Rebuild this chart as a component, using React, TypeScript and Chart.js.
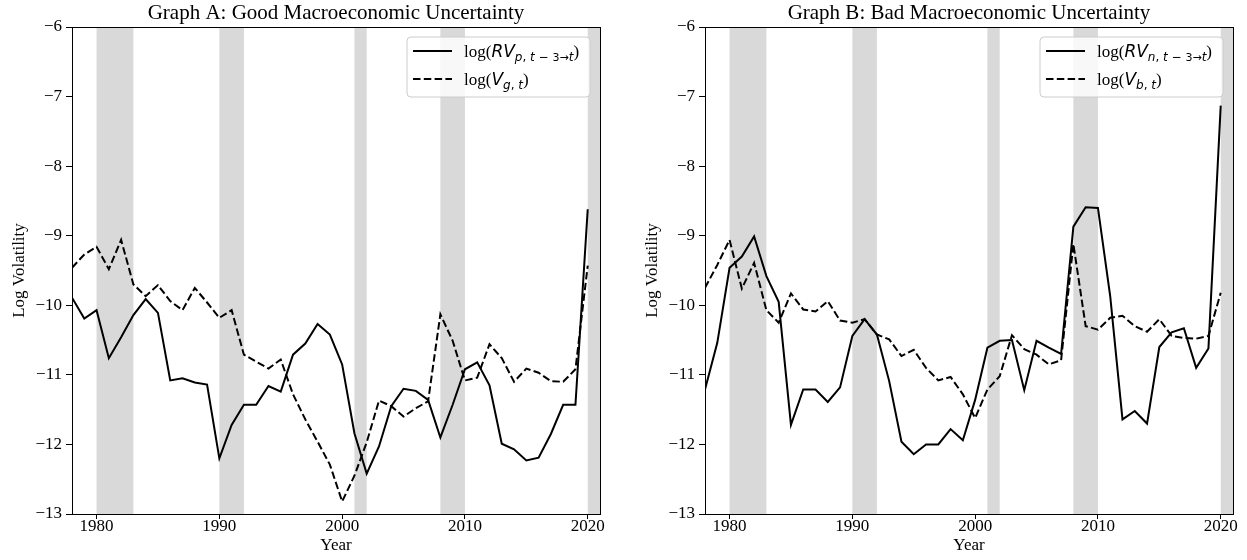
import React, { useEffect, useRef } from "react";
import { Chart, registerables } from "chart.js";

Chart.register(...registerables);

// ---------- DATA ----------
const years = [
  1978, 1979, 1980, 1981, 1982, 1983, 1984, 1985, 1986, 1987,
  1988, 1989, 1990, 1991, 1992, 1993, 1994, 1995, 1996, 1997,
  1998, 1999, 2000, 2001, 2002, 2003, 2004, 2005, 2006, 2007,
  2008, 2009, 2010, 2011, 2012, 2013, 2014, 2015, 2016, 2017,
  2018, 2019, 2020,
];

// Graph A: log(RV_p) and log(V_g)
const rvGood = [
  -9.89, -10.19, -10.07, -10.76, -10.46, -10.14, -9.91, -10.11, -11.08, -11.05,
  -11.11, -11.14, -12.2, -11.72, -11.43, -11.43, -11.16, -11.24, -10.71, -10.55,
  -10.27, -10.42, -10.85, -11.84, -12.42, -12.03, -11.45, -11.2, -11.23, -11.36,
  -11.9, -11.43, -10.92, -10.82, -11.15, -11.99, -12.07, -12.23, -12.19, -11.85,
  -11.43, -11.43, -8.62,
];
const vGood = [
  -9.46, -9.27, -9.16, -9.48, -9.06, -9.7, -9.87, -9.71, -9.94, -10.07,
  -9.75, -9.96, -10.18, -10.07, -10.71, -10.81, -10.91, -10.78, -11.28, -11.64,
  -11.96, -12.29, -12.82, -12.45, -11.97, -11.37, -11.45, -11.6, -11.48, -11.38,
  -10.13, -10.51, -11.08, -11.04, -10.56, -10.76, -11.1, -10.91, -10.97, -11.09,
  -11.1, -10.92, -9.43,
];

// Graph B: log(RV_n) and log(V_b)
const rvBad = [
  -11.21, -10.54, -9.46, -9.3, -9.01, -9.58, -9.95, -11.72, -11.21, -11.21,
  -11.39, -11.18, -10.44, -10.2, -10.42, -11.09, -11.96, -12.14, -12.0, -12.0,
  -11.78, -11.94, -11.36, -10.61, -10.51, -10.5, -11.22, -10.51, -10.61, -10.7,
  -8.87, -8.59, -8.6, -9.87, -11.64, -11.52, -11.7, -10.6, -10.39, -10.33,
  -10.9, -10.62, -7.13,
];
const vBad = [
  -9.75, -9.42, -9.06, -9.76, -9.39, -10.07, -10.25, -9.83, -10.06, -10.09,
  -9.94, -10.22, -10.25, -10.2, -10.42, -10.49, -10.73, -10.64, -10.9, -11.08,
  -11.03, -11.28, -11.62, -11.21, -11.02, -10.43, -10.63, -10.71, -10.85, -10.79,
  -9.12, -10.3, -10.35, -10.18, -10.15, -10.3, -10.38, -10.2, -10.44, -10.47,
  -10.48, -10.44, -9.82,
];

const recessionStarts = [1980, 1990, 2001, 2008, 2020];
const recessionEnds = [1983, 1992, 2002, 2010, 2021];

const xTicks = [1980, 1990, 2000, 2010, 2020];
const yTicks = [-6, -7, -8, -9, -10, -11, -12, -13];
const yTickLabels = ["\u22126", "\u22127", "\u22128", "\u22129", "\u221210", "\u221211", "\u221212", "\u221213"];

// ---------- STYLE ----------
const SERIF = "'Liberation Serif', 'Times New Roman', serif";
const MATH = "'DejaVu Sans', sans-serif";

type Part = { t: string; font: string; dy?: number };
type LegendItem = { dash: number[]; parts: Part[] };

const sub = (t: string, italic: boolean, size = 12): Part => ({
  t,
  font: `${italic ? "italic " : ""}${size}px ${MATH}`,
  dy: 4,
});

const legendA: LegendItem[] = [
  {
    dash: [],
    parts: [
      { t: "log(", font: `17px ${SERIF}` },
      { t: "RV", font: `italic 17px ${MATH}` },
      sub("p", true),
      sub(", ", false),
      sub("t", true),
      sub(" \u2212 ", false),
      sub("3\u2192", false, 11),
      sub("t", true),
      { t: ")", font: `17px ${SERIF}` },
    ],
  },
  {
    dash: [7.5, 3.3],
    parts: [
      { t: "log(", font: `17px ${SERIF}` },
      { t: "V", font: `italic 17px ${MATH}` },
      sub("g", true),
      sub(", ", false),
      sub("t", true),
      { t: ")", font: `17px ${SERIF}` },
    ],
  },
];

const legendB: LegendItem[] = [
  {
    dash: [],
    parts: [
      { t: "log(", font: `17px ${SERIF}` },
      { t: "RV", font: `italic 17px ${MATH}` },
      sub("n", true),
      sub(", ", false),
      sub("t", true),
      sub(" \u2212 ", false),
      sub("3\u2192", false, 11),
      sub("t", true),
      { t: ")", font: `17px ${SERIF}` },
    ],
  },
  {
    dash: [7.5, 3.3],
    parts: [
      { t: "log(", font: `17px ${SERIF}` },
      { t: "V", font: `italic 17px ${MATH}` },
      sub("b", true),
      sub(", ", false),
      sub("t", true),
      { t: ")", font: `17px ${SERIF}` },
    ],
  },
];

interface PanelProps {
  title: string;
  solid: number[];
  dashed: number[];
  legendItems: LegendItem[];
  left: number;
  width: number;
  yAxisWidth: number;
  rightPad: number;
  yTitlePad: number;
}

function Panel(props: PanelProps) {
  const ref = useRef<HTMLCanvasElement | null>(null);

  useEffect(() => {
    const canvas = ref.current;
    if (!canvas) return;

    const decor = {
      id: "panelDecor",
      beforeDatasetsDraw(chart: any) {
        const { ctx, chartArea: a, scales } = chart;
        const x = scales.x;
        ctx.save();
        ctx.fillStyle = "#d9d9d9";
        for (let i = 0; i < recessionStarts.length; i++) {
          const x0 = x.getPixelForValue(recessionStarts[i]);
          const x1 = x.getPixelForValue(recessionEnds[i]);
          ctx.fillRect(x0, a.top, x1 - x0, a.bottom - a.top);
        }
        ctx.restore();
      },
      afterDatasetsDraw(chart: any) {
        const { ctx, chartArea: a } = chart;
        ctx.save();
        // spines
        ctx.strokeStyle = "#000";
        ctx.lineWidth = 1;
        ctx.setLineDash([]);
        ctx.strokeRect(Math.round(a.left) + 0.5, Math.round(a.top) + 0.5, Math.round(a.right - a.left), Math.round(a.bottom - a.top));

        // legend
        const bw = 183;
        const bh = 60;
        const bx = a.right - 10 - bw;
        const by = a.top + 10;
        const r = 4;
        ctx.beginPath();
        ctx.moveTo(bx + r, by);
        ctx.lineTo(bx + bw - r, by);
        ctx.quadraticCurveTo(bx + bw, by, bx + bw, by + r);
        ctx.lineTo(bx + bw, by + bh - r);
        ctx.quadraticCurveTo(bx + bw, by + bh, bx + bw - r, by + bh);
        ctx.lineTo(bx + r, by + bh);
        ctx.quadraticCurveTo(bx, by + bh, bx, by + bh - r);
        ctx.lineTo(bx, by + r);
        ctx.quadraticCurveTo(bx, by, bx + r, by);
        ctx.closePath();
        ctx.fillStyle = "rgba(255,255,255,0.8)";
        ctx.fill();
        ctx.strokeStyle = "#cccccc";
        ctx.lineWidth = 1;
        ctx.stroke();

        props.legendItems.forEach((item, i) => {
          const ly = by + 14 + i * 28;
          ctx.beginPath();
          ctx.strokeStyle = "#000";
          ctx.lineWidth = 2;
          ctx.setLineDash(item.dash);
          ctx.moveTo(bx + 6, ly);
          ctx.lineTo(bx + 45, ly);
          ctx.stroke();
          ctx.setLineDash([]);
          let cx = bx + 57;
          ctx.fillStyle = "#000";
          ctx.textAlign = "left";
          ctx.textBaseline = "alphabetic";
          for (const p of item.parts) {
            ctx.font = p.font;
            ctx.fillText(p.t, cx, ly + 6 + (p.dy || 0));
            cx += ctx.measureText(p.t).width;
          }
        });
        ctx.restore();
      },
      afterDraw(chart: any) {
        const { ctx, chartArea: a } = chart;
        ctx.save();
        ctx.fillStyle = "#000";
        ctx.font = `21px ${SERIF}`;
        ctx.textAlign = "center";
        ctx.textBaseline = "alphabetic";
        ctx.fillText(props.title, (a.left + a.right) / 2, 19);
        ctx.restore();
      },
    };

    const tickFont = { family: SERIF, size: 17 };

    const chart = new Chart(canvas, {
      type: "line",
      data: {
        datasets: [
          {
            data: years.map((y, i) => ({ x: y, y: props.solid[i] })),
            borderColor: "#000",
            borderWidth: 2,
            pointRadius: 0,
            tension: 0,
            fill: false,
          },
          {
            data: years.map((y, i) => ({ x: y, y: props.dashed[i] })),
            borderColor: "#000",
            borderWidth: 2,
            borderDash: [7.5, 3.3],
            pointRadius: 0,
            tension: 0,
            fill: false,
          },
        ],
      },
      options: {
        responsive: false,
        animation: false,
        devicePixelRatio: 1,
        events: [],
        layout: { padding: { top: 27, right: props.rightPad, bottom: 0, left: 0 } },
        plugins: {
          legend: { display: false },
          title: { display: false },
          tooltip: { enabled: false },
        },
        scales: {
          x: {
            type: "linear",
            min: 1978,
            max: 2021,
            afterBuildTicks: (s: any) => {
              s.ticks = xTicks.map((v) => ({ value: v }));
            },
            afterFit: (s: any) => {
              s.height = 46;
            },
            border: { display: false },
            grid: { drawOnChartArea: false, drawTicks: true, tickLength: 5, color: "#000", lineWidth: 1 },
            ticks: {
              color: "#000",
              font: tickFont,
              padding: -3,
              maxRotation: 0,
              autoSkip: false,
              callback: (v: any) => String(v),
            },
            title: {
              display: true,
              text: "Year",
              color: "#000",
              font: tickFont,
              padding: { top: 0, bottom: 4 },
            },
          },
          y: {
            type: "linear",
            min: -13,
            max: -6,
            afterBuildTicks: (s: any) => {
              s.ticks = yTicks.map((v) => ({ value: v }));
            },
            afterFit: (s: any) => {
              s.width = props.yAxisWidth;
            },
            border: { display: false },
            grid: { drawOnChartArea: false, drawTicks: true, tickLength: 6, color: "#000", lineWidth: 1 },
            ticks: {
              color: "#000",
              font: tickFont,
              padding: 4,
              autoSkip: false,
              callback: (_v: any, i: number) => yTickLabels[i],
            },
            title: {
              display: true,
              text: "Log Volatility",
              color: "#000",
              font: tickFont,
              padding: { top: props.yTitlePad, bottom: 0 },
            },
          },
        },
      },
      plugins: [decor],
    } as any);

    return () => chart.destroy();
  }, []);

  return (
    <canvas
      ref={ref}
      width={props.width}
      height={560}
      style={{ position: "absolute", left: props.left, top: 0, width: props.width, height: 560 }}
    />
  );
}

export default function App() {
  return (
    <div style={{ position: "absolute", left: 0, top: 0, width: 1247, height: 560, background: "#fff" }}>
      <Panel
        title="Graph A: Good Macroeconomic Uncertainty"
        solid={rvGood}
        dashed={vGood}
        legendItems={legendA}
        left={0}
        width={620}
        yAxisWidth={72}
        rightPad={20}
        yTitlePad={9}
      />
      <Panel
        title="Graph B: Bad Macroeconomic Uncertainty"
        solid={rvBad}
        dashed={vBad}
        legendItems={legendB}
        left={620}
        width={627}
        yAxisWidth={85}
        rightPad={14}
        yTitlePad={22}
      />
    </div>
  );
}
